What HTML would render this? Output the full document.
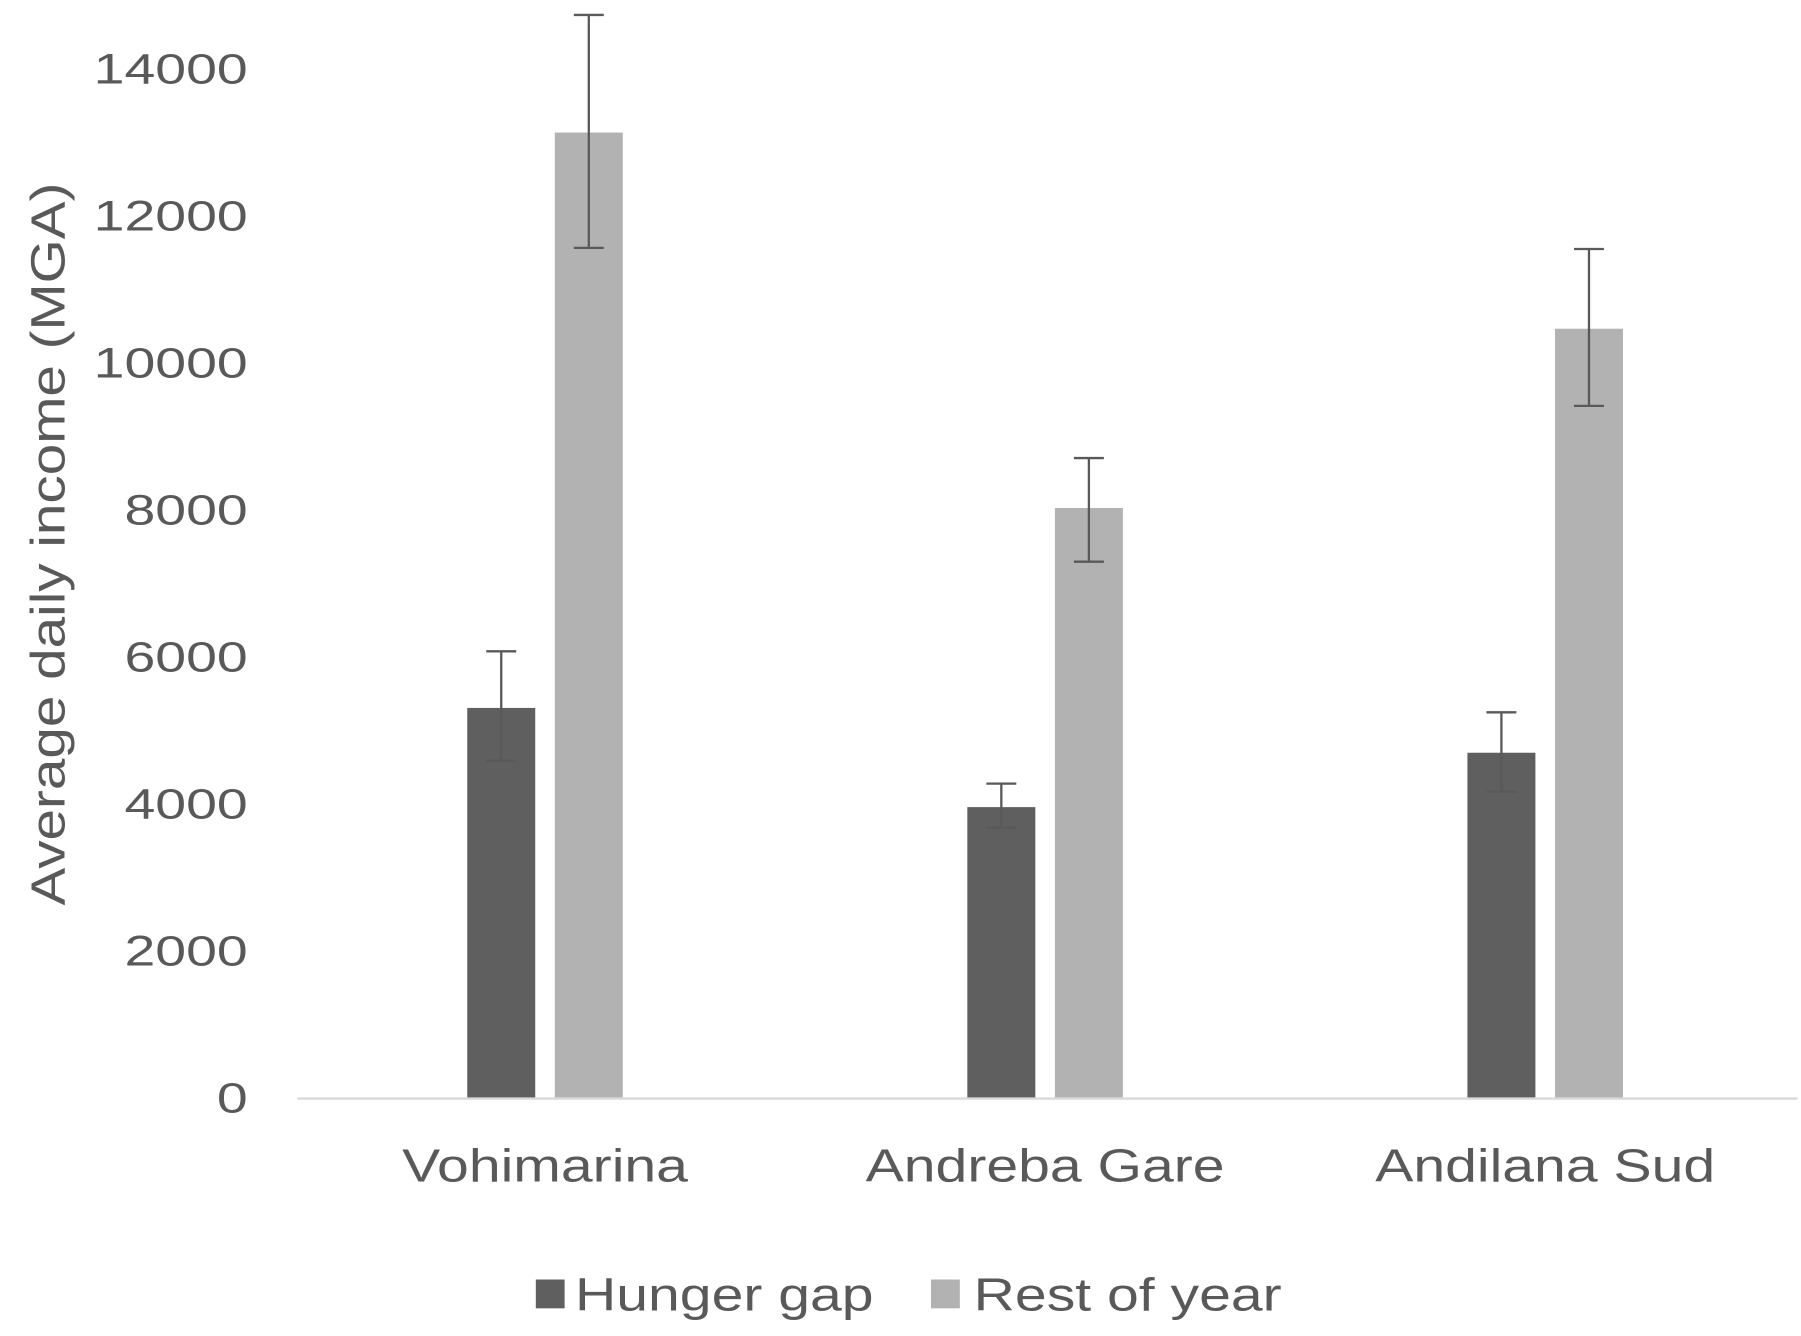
<!DOCTYPE html>
<html><head><meta charset="utf-8"><style>
html,body{margin:0;padding:0;background:#fff;}
svg{display:block;font-family:"Liberation Sans",Arial,sans-serif;}
</style></head><body>
<svg id="chart" width="1801" height="1336" viewBox="0 0 1563 1159" preserveAspectRatio="none" xmlns="http://www.w3.org/2000/svg">
<rect width="1563" height="1159" fill="#fff"/>
<g id="plot"></g>
</svg>
<script>
const categories = ["Vohimarina", "Andreba Gare", "Andilana Sud"];
const hungerGap = [5300, 3950, 4690];
const hungerErrHigh = [6070, 4270, 5240];
const hungerErrLow = [4580, 3670, 4160];
const restOfYear = [13130, 8020, 10460];
const restErrHigh = [14730, 8700, 11545];
const restErrLow = [11560, 7290, 9410];
const yTicks = [0, 2000, 4000, 6000, 8000, 10000, 12000, 14000];

const NS = "http://www.w3.org/2000/svg";
const g = document.getElementById("plot");
const x0 = 258, x1 = 1560, y0 = 952, pxPer = 63.75 / 1000;
const yScale = v => y0 - v * pxPer;
const groupW = (x1 - x0) / categories.length;
const xCenter = i => x0 + groupW * (i + 0.5);
const barW = 59, gap = 17;

function el(tag, attrs, text) {
  const e = document.createElementNS(NS, tag);
  for (const k in attrs) e.setAttribute(k, attrs[k]);
  if (text !== undefined) e.textContent = text;
  g.appendChild(e);
  return e;
}

yTicks.forEach(t => {
  const e = el("text", {x: 0, y: 0, transform: "translate(215," + (yScale(t) + 13) + ") scale(1.3,1)", "text-anchor": "end", "font-size": 37, fill: "#595959"}, String(t));
  
  
});

const yt = el("text", {x: 0, y: 0, transform: "translate(56,472) rotate(-90) scale(1.17,1)", "text-anchor": "middle", "font-size": 42, fill: "#595959"}, "Average daily income (MGA)");



const ax = el("line", {x1: x0, x2: x1, y1: y0 + 1, y2: y0 + 1, stroke: "#d9d9d9", "stroke-width": 2});



function errBar(cx, hi, lo, name) {
  const c = "#595959";
  const a = el("line", {x1: cx, x2: cx, y1: yScale(hi), y2: yScale(lo), stroke: c, "stroke-width": 2});
  
  
  const b = el("line", {x1: cx - 13, x2: cx + 13, y1: yScale(hi), y2: yScale(hi), stroke: c, "stroke-width": 2});
  
  
  const d = el("line", {x1: cx - 13, x2: cx + 13, y1: yScale(lo), y2: yScale(lo), stroke: c, "stroke-width": 2});
  
  
}

categories.forEach((c, i) => {
  const cx = xCenter(i) - 2;
  const hx = cx - gap / 2 - barW;
  const rx = cx + gap / 2;
  const hb = el("rect", {x: hx, y: yScale(hungerGap[i]), width: barW, height: y0 - yScale(hungerGap[i]), fill: "#5f5f5f"});
  
  
  const rb = el("rect", {x: rx, y: yScale(restOfYear[i]), width: barW, height: y0 - yScale(restOfYear[i]), fill: "#b2b2b2"});
  
  
  errBar(hx + barW / 2, hungerErrHigh[i], hungerErrLow[i], 'error-bar-hunger-gap');
  errBar(rx + barW / 2, restErrHigh[i], restErrLow[i], 'error-bar-rest-of-year');
  const lab = el("text", {x: 0, y: 0, transform: "translate(" + cx + ",1025) scale(1.24,1)", "text-anchor": "middle", "font-size": 40, fill: "#595959"}, c);
  
  
});
</script>
<svg style="position:absolute;left:0;top:0" width="1801" height="1336" viewBox="0 0 1563 1159" preserveAspectRatio="none">
<rect x="465" y="1110" width="25" height="25" fill="#5f5f5f"/>
<text transform="translate(499,1137) scale(1.24,1)" font-size="40" fill="#595959" font-family="Liberation Sans, sans-serif">Hunger gap</text>
<rect x="808" y="1110" width="25" height="25" fill="#b2b2b2"/>
<text transform="translate(845,1137) scale(1.24,1)" font-size="40" fill="#595959" font-family="Liberation Sans, sans-serif">Rest of year</text>
</svg>
</body></html>
